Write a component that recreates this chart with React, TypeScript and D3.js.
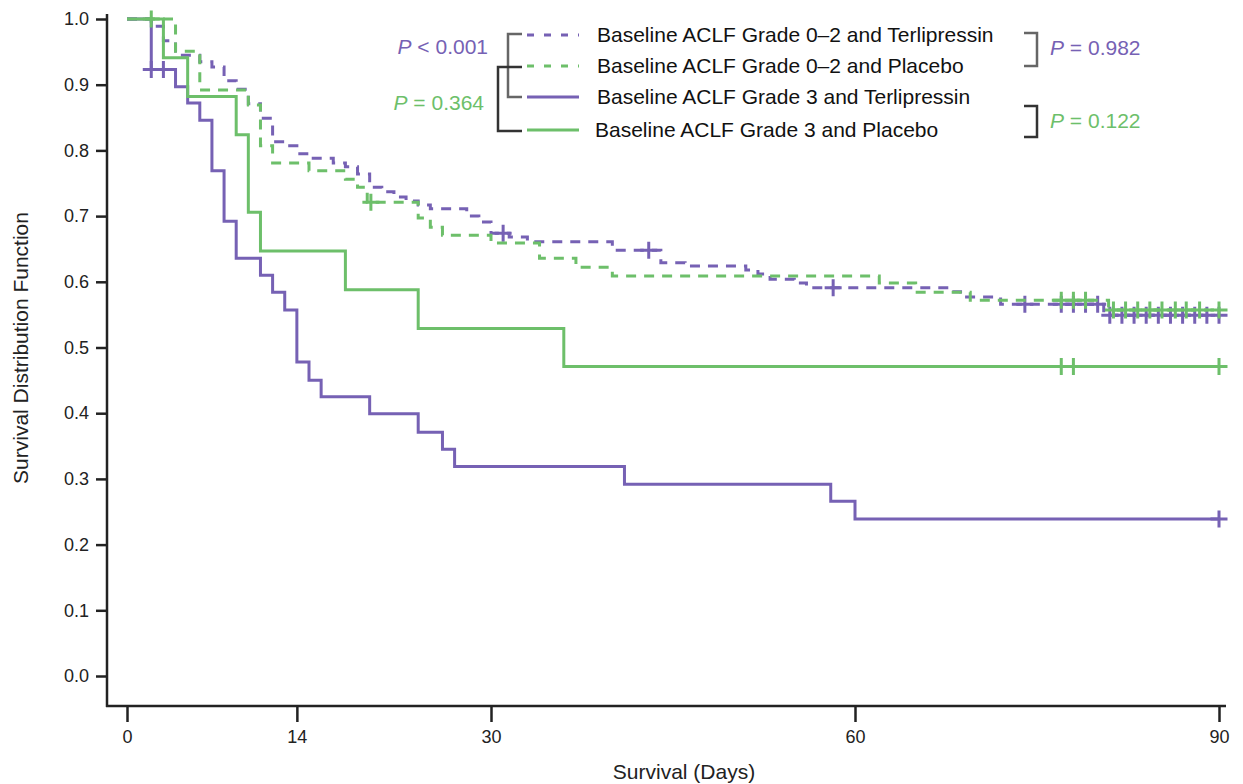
import React, { useEffect, useRef } from "react";
import * as d3 from "d3";

// survival step data
const g02TerliTimes = [0, 2, 3, 4, 6, 7, 8, 9, 10, 11, 12, 13, 14, 15, 17, 18, 19, 20, 21, 22, 23, 24, 25, 28, 29, 30, 31.5, 33, 40, 44, 46, 51, 52, 53, 55, 56, 67.7, 68.7, 72, 80.5];
const g02TerliSurv = [1.0, 0.989, 0.967, 0.945, 0.935, 0.927, 0.906, 0.893, 0.871, 0.849, 0.813, 0.807, 0.795, 0.788, 0.781, 0.775, 0.764, 0.744, 0.737, 0.729, 0.723, 0.717, 0.711, 0.7, 0.691, 0.674, 0.668, 0.661, 0.648, 0.629, 0.624, 0.618, 0.612, 0.604, 0.598, 0.591, 0.585, 0.577, 0.566, 0.549];
const g02TerliCensor = [31, 43, 58.2, 74, 77, 78, 79, 80, 81, 82, 83, 84, 85, 86, 87, 88, 89, 90];

const g02PlaceboTimes = [0, 4, 6, 10, 11, 12, 15, 18, 19, 19.8, 24, 25, 26, 30, 34, 37, 40, 62, 65, 69.5, 80.9];
const g02PlaceboSurv = [1.0, 0.951, 0.892, 0.869, 0.807, 0.781, 0.769, 0.756, 0.744, 0.721, 0.697, 0.683, 0.671, 0.659, 0.636, 0.622, 0.609, 0.598, 0.584, 0.572, 0.557];
const g02PlaceboCensor = [20.1, 77, 78, 79, 81.3, 82.3, 83.3, 84.3, 85.3, 86.4, 87.3, 88.4, 90];

const g3TerliTimes = [0, 2, 4, 5, 6, 7, 8, 9, 11, 12, 13, 14, 15, 16, 20, 24, 26, 27, 41, 58, 60];
const g3TerliSurv = [1.0, 0.923, 0.897, 0.872, 0.846, 0.769, 0.692, 0.636, 0.61, 0.584, 0.557, 0.478, 0.45, 0.425, 0.399, 0.371, 0.345, 0.319, 0.292, 0.266, 0.239];
const g3TerliCensor = [2, 3, 90];

const g3PlaceboTimes = [0, 3, 5, 9, 10, 11, 18, 24, 36];
const g3PlaceboSurv = [1.0, 0.941, 0.882, 0.824, 0.706, 0.647, 0.588, 0.529, 0.471];
const g3PlaceboCensor = [2, 77, 78, 90];

const xTicks = [0, 14, 30, 60, 90];
const yTicks = [0.0, 0.1, 0.2, 0.3, 0.4, 0.5, 0.6, 0.7, 0.8, 0.9, 1.0];

const legendLabels = [
    "Baseline ACLF Grade 0\u20132 and Terlipressin",
    "Baseline ACLF Grade 0\u20132 and Placebo",
    "Baseline ACLF Grade 3 and Terlipressin",
    "Baseline ACLF Grade 3 and Placebo"
];

const PURPLE = "#7661b4";
const GREEN = "#6dbf6a";
const FONT = "'Liberation Sans', Arial, Helvetica, sans-serif";

function App() {
    const chart = useRef(null);

    useEffect(() => {
        const width = 1243;
        const height = 784;
        const svg = d3.select(chart.current)
            .attr("width", width)
            .attr("height", height)
            .style("font-family", FONT);

        const x = d3.scaleLinear().domain([0, 90]).range([127, 1219]);
        const y = d3.scaleLinear().domain([0, 1]).range([676, 19]);

        // axes
        const yAxis = svg.append("g")
            .attr("transform", "translate(107,0)")
            .call(d3.axisLeft(y).tickValues(yTicks).tickFormat(d3.format(".1f")).tickSize(11).tickSizeOuter(0));
        yAxis.select(".domain").remove();
        yAxis.selectAll("line").attr("stroke", "#222").attr("stroke-width", 2.5);
        yAxis.selectAll("text").attr("font-size", 18).attr("font-family", FONT).attr("fill", "#222").attr("x", -18);

        const xAxis = svg.append("g")
            .attr("transform", "translate(0,706)")
            .call(d3.axisBottom(x).tickValues(xTicks).tickSize(16).tickSizeOuter(0));
        xAxis.select(".domain").remove();
        xAxis.selectAll("line").attr("stroke", "#222").attr("stroke-width", 2.5);
        xAxis.selectAll("text").attr("font-size", 18).attr("font-family", FONT).attr("fill", "#222").attr("y", 24);

        svg.append("line")
            .attr("x1", 107).attr("x2", 107).attr("y1", 14).attr("y2", 707)
            .attr("stroke", "#222").attr("stroke-width", 2.5);
        svg.append("line")
            .attr("x1", 106).attr("x2", 1226).attr("y1", 706).attr("y2", 706)
            .attr("stroke", "#222").attr("stroke-width", 2.5);

        svg.append("text")
            .attr("transform", "translate(28,348) rotate(-90)")
            .attr("text-anchor", "middle")
            .attr("font-size", 21)
            .attr("fill", "#222")
            .text("Survival Distribution Function");
        svg.append("text")
            .attr("x", 684).attr("y", 779)
            .attr("text-anchor", "middle")
            .attr("font-size", 21)
            .attr("fill", "#222")
            .text("Survival (Days)");

        // curves
        const curves = [
            { times: g02TerliTimes, surv: g02TerliSurv, censor: g02TerliCensor, color: PURPLE, dash: "10 8" },
            { times: g02PlaceboTimes, surv: g02PlaceboSurv, censor: g02PlaceboCensor, color: GREEN, dash: "10 8" },
            { times: g3TerliTimes, surv: g3TerliSurv, censor: g3TerliCensor, color: PURPLE, dash: null },
            { times: g3PlaceboTimes, surv: g3PlaceboSurv, censor: g3PlaceboCensor, color: GREEN, dash: null }
        ];

        const line = d3.line()
            .x(d => x(d[0]))
            .y(d => y(d[1]))
            .curve(d3.curveStepAfter);

        const survAt = (c, t) => {
            let s = c.surv[0];
            c.times.forEach((tt, i) => { if (tt <= t) s = c.surv[i]; });
            return s;
        };

        curves.forEach(c => {
            const pts = c.times.map((t, i) => [t, c.surv[i]]);
            pts.push([90, c.surv[c.surv.length - 1]]);
            svg.append("path")
                .attr("d", line(pts))
                .attr("fill", "none")
                .attr("stroke", c.color)
                .attr("stroke-width", 3)
                .attr("stroke-dasharray", c.dash);

            const marks = svg.append("g");
            c.censor.forEach(t => {
                const cx = x(t);
                const cy = y(survAt(c, t));
                marks.append("path")
                    .attr("d", `M${cx - 8.5},${cy}H${cx + 8.5}M${cx},${cy - 8.5}V${cy + 8.5}`)
                    .attr("stroke", c.color)
                    .attr("stroke-width", 3)
                    .attr("fill", "none");
            });
        });

        // legend
        const legendY = [35, 66, 97, 130];
        const legend = svg.append("g");
        legendLabels.forEach((label, i) => {
            legend.append("line")
                .attr("x1", 527).attr("x2", 579)
                .attr("y1", legendY[i]).attr("y2", legendY[i])
                .attr("stroke", curves[i].color)
                .attr("stroke-width", 3)
                .attr("stroke-dasharray", curves[i].dash ? "7 10" : null);
            legend.append("text")
                .attr("x", i === 3 ? 595 : 597)
                .attr("y", legendY[i])
                .attr("dy", "0.35em")
                .attr("font-size", 21)
                .attr("fill", "#111")
                .text(label);
        });

        // comparison brackets
        const bracket = (pathD, color) => svg.append("path")
            .attr("d", pathD)
            .attr("fill", "none")
            .attr("stroke", color)
            .attr("stroke-width", 2.5);
        bracket("M522,34H508V97H522", "#666");
        bracket("M522,67H498V131H522", "#333");
        bracket("M1024,33H1037V66H1024", "#666");
        bracket("M1024,106H1037V137H1024", "#333");

        const pLabel = (px, py, anchor, rest, color) => {
            const t = svg.append("text")
                .attr("x", px).attr("y", py)
                .attr("dy", "0.35em")
                .attr("text-anchor", anchor)
                .attr("font-size", 21)
                .attr("fill", color);
            t.append("tspan").attr("font-style", "italic").text("P");
            t.append("tspan").text(rest);
        };
        pLabel(488, 47, "end", " < 0.001", PURPLE);
        pLabel(484, 103, "end", " = 0.364", GREEN);
        pLabel(1050, 48, "start", " = 0.982", PURPLE);
        pLabel(1050, 121, "start", " = 0.122", GREEN);

        return () => {
            svg.selectAll("*").remove();
        };
    }, []);

    return (
        <svg ref={chart} style={{ position: "absolute", left: 0, top: 0, background: "#fff" }}></svg>
    );
}

export default App;
